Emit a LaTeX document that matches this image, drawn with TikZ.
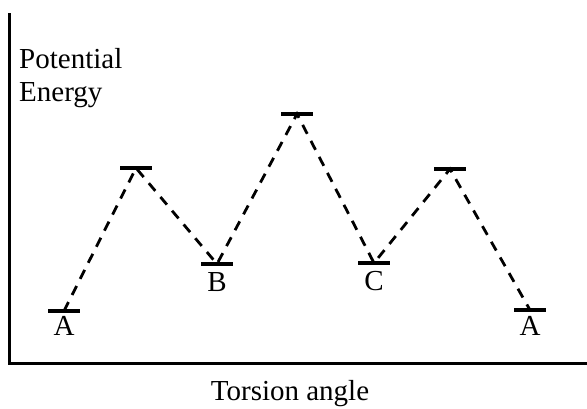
\documentclass[tikz,border=0pt]{standalone}
\usepackage{fontspec}
\setmainfont{Liberation Serif}
\usetikzlibrary{positioning}

\begin{document}
\begin{tikzpicture}[
  x=1pt, y=-1pt,
  axisline/.style={line width=3pt, line cap=butt},
  level/.style={line width=3.2pt},
  link/.style={line width=2.8pt, dash pattern=on 10pt off 8pt},
  lbl/.style={font=\fontsize{29}{33}\selectfont, anchor=base, inner sep=0pt},
  title/.style={font=\fontsize{29}{33}\selectfont, inner sep=0pt},
]
  \useasboundingbox (0,0) rectangle (587,408);

  % --- axes ----------------------------------------------------
  \coordinate (top) at (9,13);
  \coordinate (origin) at (9,363);
  \coordinate (right) at (587,363);
  \draw[axisline] (top) -- (origin) -- (right);
  \node[title, anchor=base west] (ylab1) at (19,68)  {Potential};
  \node[title, anchor=base west] (ylab2) at (19,101) {Energy};
  \node[title, anchor=base] (xlab) at (290,400) {Torsion angle};

  % --- energy levels -------------------------------------------
  \foreach \n/\x/\y in {a1/64/311, p1/136/168, b/217/264, p2/297/114,
                        c/374/263, p3/450/169, a2/530/310}
  {
    \coordinate (\n) at (\x,\y);
    \draw[level] ([xshift=-16pt]\n) -- ([xshift=16pt]\n);
  }

  % --- labels under the minima ---------------------------------
  \node[lbl] (la1) at ([yshift=-24pt]a1) {A};
  \node[lbl] (lb)  at ([yshift=-27pt]b)  {B};
  \node[lbl] (lc)  at ([yshift=-27pt]c)  {C};
  \node[lbl] (la2) at ([yshift=-25pt]a2) {A};

  % --- dashed path between the levels --------------------------
  \draw[link] (a1) -- (p1) -- (b) -- (p2) -- (c) -- (p3) -- (a2);
\end{tikzpicture}
\end{document}
